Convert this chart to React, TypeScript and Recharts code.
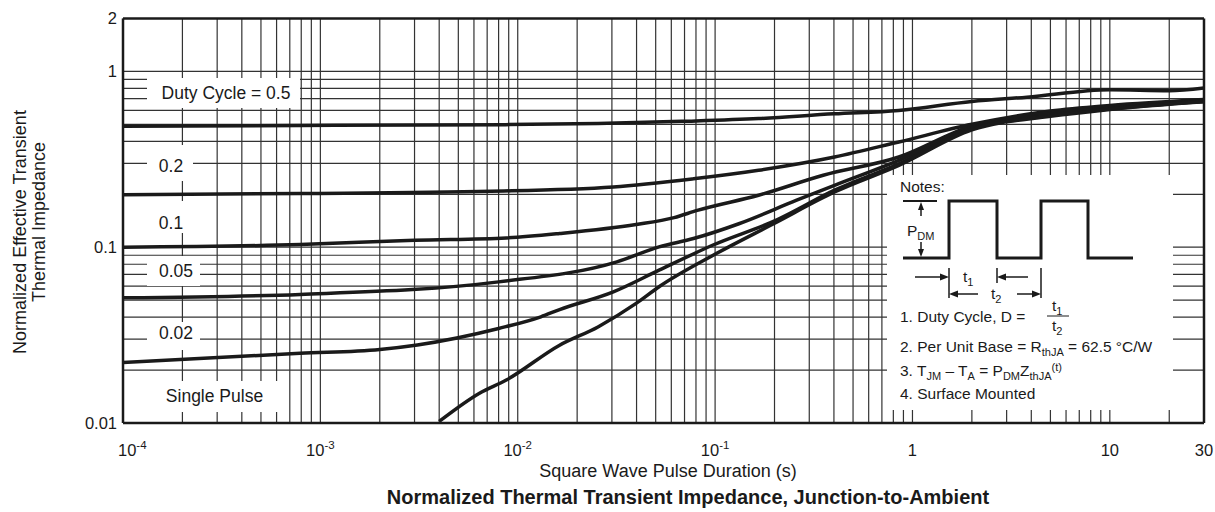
import { LineChart, Line, XAxis, YAxis, ReferenceLine } from 'recharts'

const FONT = '"Liberation Sans", Arial, Helvetica, sans-serif'
const INK = '#1a1a1a'
const GRID = '#333'

// pulse duration (s) / normalized Zth
const tD50 = [1e-4, 8e-4, 8.7e-3, 0.0255, 0.068, 0.166, 0.4, 0.85, 2, 3.8, 10, 20, 30]
const zD50 = [0.487, 0.493, 0.498, 0.505, 0.52, 0.539, 0.574, 0.6, 0.675, 0.714, 0.787, 0.777, 0.804]

const tD20 = [1e-4, 7.9e-4, 7.3e-3, 0.0305, 0.0777, 0.166, 0.403, 0.853, 2, 5, 10, 30]
const zD20 = [0.199, 0.202, 0.208, 0.22, 0.245, 0.274, 0.326, 0.397, 0.5, 0.595, 0.641, 0.693]

const tD10 = [1e-4, 7.9e-4, 3e-3, 8.75e-3, 0.0163, 0.0398, 0.062, 0.0812, 0.166, 0.353, 0.853, 2, 5, 10, 30]
const zD10 = [0.1, 0.1035, 0.1096, 0.113, 0.1197, 0.1346, 0.1474, 0.162, 0.1975, 0.2566, 0.326, 0.49, 0.58, 0.625, 0.68]

const tD05 = [1e-4, 7.9e-4, 8e-3, 0.0318, 0.052, 0.0777, 0.132, 0.259, 0.403, 0.853, 2, 5, 10, 30]
const zD05 = [0.0515, 0.0539, 0.0635, 0.0826, 0.1005, 0.112, 0.136, 0.185, 0.225, 0.312, 0.48, 0.57, 0.618, 0.677]

const tD02 = [1e-4, 7.9e-4, 2e-3, 3.1e-3, 8e-3, 0.0131, 0.0163, 0.0305, 0.052, 0.097, 0.207, 0.403, 0.853, 2, 5, 10, 30]
const zD02 = [0.0221, 0.0249, 0.0262, 0.0278, 0.0345, 0.0402, 0.0442, 0.0557, 0.074, 0.1026, 0.1436, 0.211, 0.298, 0.472, 0.562, 0.612, 0.675]

const tSingle = [0.004, 6.4e-3, 8.75e-3, 0.0163, 0.0255, 0.0398, 0.052, 0.1014, 0.198, 0.403, 0.853, 2, 5, 10, 30]
const zSingle = [0.0102, 0.01476, 0.01755, 0.0277, 0.0352, 0.0479, 0.0596, 0.092, 0.136, 0.206, 0.292, 0.465, 0.555, 0.608, 0.672]

const series = [
  { key: 'd50', t: tD50, z: zD50 },
  { key: 'd20', t: tD20, z: zD20 },
  { key: 'd10', t: tD10, z: zD10 },
  { key: 'd05', t: tD05, z: zD05 },
  { key: 'd02', t: tD02, z: zD02 },
  { key: 'single', t: tSingle, z: zSingle },
]

const xTicks = [1e-4, 1e-3, 1e-2, 1e-1, 1, 10, 30]
const xTickBase = ['10', '10', '10', '10', '1', '10', '30']
const xTickExp = ['-4', '-3', '-2', '-1', '', '', '']
const yTicks = [0.01, 0.1, 1, 2]
const yTickLabels = ['0.01', '0.1', '1', '2']

const steps = [1, 2, 3, 4, 5, 6, 7, 8, 9]
const gridX = [1e-4, 1e-3, 1e-2, 1e-1, 1].flatMap((d) => steps.map((k) => k * d)).concat([10, 20])
const gridY = [0.01, 0.1].flatMap((d) => steps.slice(1).map((k) => k * d)).concat([0.1, 1])

function XTick(props: any) {
  const { x, y, payload } = props
  const i = xTicks.indexOf(payload.value)
  const first = i === 0
  return (
    <text x={first ? x - 5 : x} y={y + 31} textAnchor={first ? 'start' : 'middle'}
          fontFamily={FONT} fontSize={16.5} fill={INK}>
      {xTickBase[i]}
      {xTickExp[i] && <tspan fontSize={11.5} dy={-7}>{xTickExp[i]}</tspan>}
    </text>
  )
}

function YTick(props: any) {
  const { x, y, payload } = props
  const i = yTicks.indexOf(payload.value)
  return (
    <text x={x} y={y} dy="0.36em" textAnchor="end" fontFamily={FONT} fontSize={16.5} fill={INK}>
      {yTickLabels[i]}
    </text>
  )
}

function Sub({ children }: { children: string }) {
  return <tspan fontSize={11} dy={4}>{children}</tspan>
}

function Overlay() {
  const txt = { fontFamily: FONT, fill: INK }
  const label = (cx: number, cy: number, s: string) => (
    <text x={cx} y={cy + 6.3} textAnchor="middle" fontSize={17.5} {...txt}>{s}</text>
  )
  return (
    <svg width={1215} height={512} style={{ position: 'absolute', left: 0, top: 0, pointerEvents: 'none' }}>
      {/* curve labels */}
      <rect x={147} y={78} width={153} height={30} fill="#fff" />
      {label(226, 93, 'Duty Cycle = 0.5')}
      <rect x={147} y={145} width={46} height={36} fill="#fff" />
      {label(171, 166, '0.2')}
      <rect x={147} y={201} width={46} height={32} fill="#fff" />
      {label(171, 223, '0.1')}
      <rect x={147} y={256} width={53} height={30} fill="#fff" />
      {label(176, 271, '0.05')}
      <rect x={147} y={322} width={53} height={28} fill="#fff" />
      {label(176, 333, '0.02')}
      <rect x={151} y={381} width={131} height={31} fill="#fff" />
      {label(214.5, 396, 'Single Pulse')}

      {/* notes box */}
      <rect x={887} y={175} width={286} height={235} fill="#fff" />
      <g fontSize={15.5} {...txt}>
        <text x={900} y={192}>Notes:</text>
        <text x={907} y={236}>P<Sub>DM</Sub></text>
        <text x={963} y={282}>t<Sub>1</Sub></text>
        <text x={991} y={299}>t<Sub>2</Sub></text>
        <text x={900} y={322}>1. Duty Cycle, D =</text>
        <text x={1052} y={311}>t<Sub>1</Sub></text>
        <text x={1052} y={331}>t<Sub>2</Sub></text>
        <text x={900} y={352}>2. Per Unit Base = R<Sub>thJA</Sub><tspan dy={-4}> = 62.5 °C/W</tspan></text>
        <text x={900} y={375.5}>
          3. T<Sub>JM</Sub><tspan dy={-4}> – T</tspan><Sub>A</Sub><tspan dy={-4}> = P</tspan><Sub>DM</Sub>
          <tspan dy={-4}>Z</tspan><Sub>thJA</Sub><tspan fontSize={11} dy={-9}>(t)</tspan>
        </text>
        <text x={900} y={399}>4. Surface Mounted</text>
      </g>
      <polyline points="903,258 949,258 949,201 997,201 997,258 1041,258 1041,201 1088,201 1088,258 1133,258"
                fill="none" stroke={INK} strokeWidth={3} />
      <line x1={903} y1={201} x2={937} y2={201} stroke={INK} strokeWidth={2} />
      <line x1={921} y1={208} x2={921} y2={216} stroke={INK} strokeWidth={1.5} />
      <polygon points="921,202 918,210 924,210" fill={INK} />
      <line x1={921} y1={242} x2={921} y2={251} stroke={INK} strokeWidth={1.5} />
      <polygon points="921,257 918,249 924,249" fill={INK} />
      <g stroke={INK} strokeWidth={1.5}>
        <line x1={949} y1={268} x2={949} y2={298} />
        <line x1={997} y1={268} x2={997} y2={283} />
        <line x1={1041} y1={268} x2={1041} y2={298} />
        <line x1={915} y1={277} x2={942} y2={277} />
        <line x1={1004} y1={277} x2={1028} y2={277} />
        <line x1={956} y1={294} x2={978} y2={294} />
        <line x1={1017} y1={294} x2={1034} y2={294} />
        <line x1={1047} y1={316} x2={1069} y2={316} strokeWidth={1} />
      </g>
      <g fill={INK}>
        <polygon points="949,277 940,273.5 940,280.5" />
        <polygon points="997,277 1006,273.5 1006,280.5" />
        <polygon points="949,294 958,290.5 958,297.5" />
        <polygon points="1041,294 1032,290.5 1032,297.5" />
      </g>

      {/* axis titles */}
      <text transform="translate(26,232) rotate(-90)" textAnchor="middle" fontSize={18} {...txt}>
        Normalized Effective Transient
      </text>
      <text transform="translate(45,222) rotate(-90)" textAnchor="middle" fontSize={18} {...txt}>
        Thermal Impedance
      </text>
      <text x={668} y={477} textAnchor="middle" fontSize={18} {...txt}>Square Wave Pulse Duration (s)</text>
      <text x={688} y={504} textAnchor="middle" fontSize={20} fontWeight="bold" {...txt}>
        Normalized Thermal Transient Impedance, Junction-to-Ambient
      </text>
    </svg>
  )
}

export default function App() {
  return (
    <div style={{ position: 'absolute', left: 0, top: 0, width: 1215, height: 512, background: '#fff' }}>
      <LineChart width={1215} height={512} margin={{ top: 18.5, right: 11, bottom: 59, left: 83 }}>
        <XAxis dataKey="t" type="number" scale="log" domain={[1e-4, 30]} allowDataOverflow
               ticks={xTicks} tick={<XTick />} tickLine={false} tickSize={0} height={30}
               axisLine={{ stroke: INK, strokeWidth: 2.5 }} />
        <YAxis type="number" scale="log" domain={[0.01, 2]} allowDataOverflow width={40}
               ticks={yTicks} tick={<YTick />} tickLine={false} tickSize={0} tickMargin={6}
               axisLine={{ stroke: INK, strokeWidth: 2.5 }} />
        {gridX.map((v) => (
          <ReferenceLine key={'gx' + v} x={v} stroke={GRID} strokeWidth={1.2} />
        ))}
        {gridY.map((v) => (
          <ReferenceLine key={'gy' + v} y={v} stroke={GRID} strokeWidth={1.2} />
        ))}
        <ReferenceLine y={2} stroke={INK} strokeWidth={2.5} />
        <ReferenceLine x={30} stroke={INK} strokeWidth={2.5} />
        {series.map((s) => (
          <Line key={s.key} data={s.t.map((t, i) => ({ t, z: s.z[i] }))} dataKey="z" type="monotone"
                stroke={INK} strokeWidth={3.5} dot={false} isAnimationActive={false} />
        ))}
      </LineChart>
      <Overlay />
    </div>
  )
}
